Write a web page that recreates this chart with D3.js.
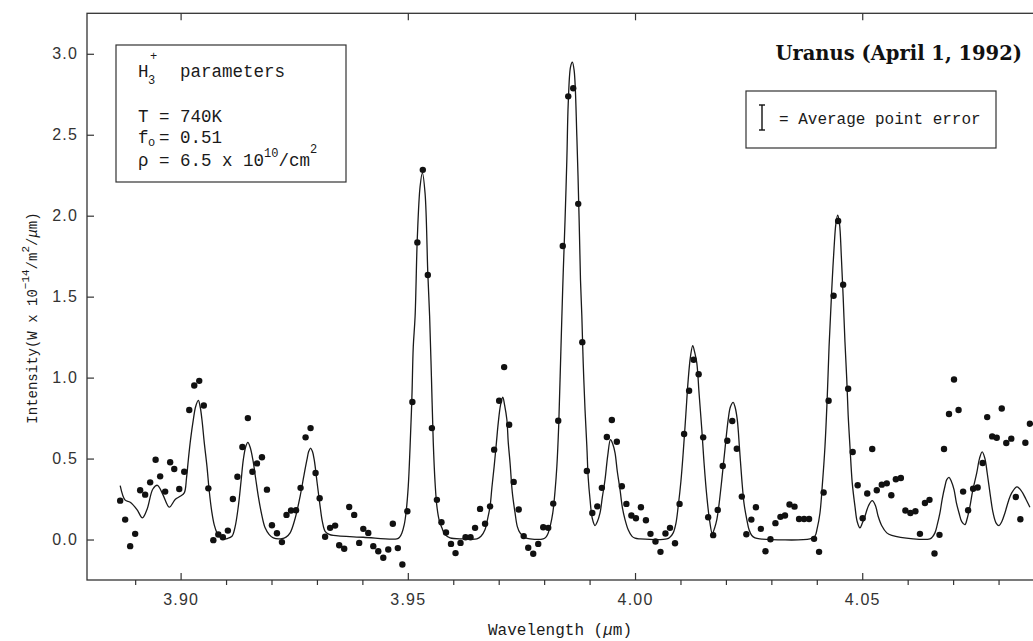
<!DOCTYPE html>
<html lang="en">
<head>
<meta charset="UTF-8">
<title>Uranus (April 1, 1992)</title>
<style>
  body { margin: 0; background: #fff; }
  svg { display: block; }
  .mono { font-family: 'Liberation Mono', 'Courier New', monospace; fill: #1a1a1a; }
  .axis text { font-family: 'Liberation Sans', Arial, sans-serif; font-size: 16px; fill: #333; letter-spacing: 1.2px; }
  .axis path, .axis line { stroke: #333; stroke-width: 1.2; }
</style>
</head>
<body>
<svg width="1033" height="641"></svg>
<script src="https://d3js.org/d3.v7.min.js"></script>
<script>
// measured points (wavelength in um, intensity in 1e-14 W/m2/um)
const obsWavelength = [
  3.8867, 3.8878, 3.8889, 3.8900, 3.8911, 3.8922, 3.8933, 3.8945, 3.8955, 3.8966,
  3.8977, 3.8986, 3.8997, 3.9008, 3.9019, 3.9030, 3.9041, 3.9051, 3.9061, 3.9072,
  3.9083, 3.9093, 3.9104, 3.9115, 3.9125, 3.9136, 3.9148, 3.9158, 3.9168, 3.9179,
  3.9190, 3.9201, 3.9212, 3.9223, 3.9233, 3.9243, 3.9254, 3.9264, 3.9275, 3.9286,
  3.9297, 3.9306, 3.9318, 3.9329, 3.9340, 3.9349, 3.9360, 3.9371, 3.9382, 3.9393,
  3.9402, 3.9413, 3.9424, 3.9435, 3.9446, 3.9457, 3.9467, 3.9478, 3.9488, 3.9499,
  3.9510, 3.9521, 3.9533, 3.9544, 3.9553, 3.9564, 3.9574, 3.9584, 3.9595, 3.9605,
  3.9616, 3.9627, 3.9638, 3.9648, 3.9659, 3.9670, 3.9681, 3.9690, 3.9701, 3.9712,
  3.9723, 3.9733, 3.9744, 3.9755, 3.9765, 3.9776, 3.9787, 3.9798, 3.9809, 3.9820,
  3.9831, 3.9841, 3.9853, 3.9864, 3.9875, 3.9884, 3.9894, 3.9906, 3.9917, 3.9927,
  3.9938, 3.9949, 3.9960, 3.9971, 3.9981, 3.9992, 4.0002, 4.0013, 4.0024, 4.0034,
  4.0045, 4.0056, 4.0067, 4.0077, 4.0088, 4.0098, 4.0108, 4.0119, 4.0129, 4.0140,
  4.0150, 4.0161, 4.0172, 4.0182, 4.0193, 4.0203, 4.0214, 4.0224, 4.0235, 4.0245,
  4.0256, 4.0266, 4.0277, 4.0287, 4.0298, 4.0309, 4.0320, 4.0330, 4.0340, 4.0351,
  4.0361, 4.0372, 4.0383, 4.0394, 4.0405, 4.0415, 4.0426, 4.0437, 4.0447, 4.0458,
  4.0469, 4.0479, 4.0490, 4.0501, 4.0511, 4.0522, 4.0532, 4.0543, 4.0554, 4.0564,
  4.0574, 4.0585, 4.0595, 4.0606, 4.0617, 4.0627, 4.0638, 4.0648, 4.0659, 4.0670,
  4.0680, 4.0691, 4.0702, 4.0712, 4.0722, 4.0733, 4.0744, 4.0754, 4.0765, 4.0775,
  4.0786, 4.0796, 4.0807, 4.0817, 4.0828, 4.0838, 4.0848, 4.0859, 4.0869
];
const obsIntensity = [
  0.240, 0.123, -0.041, 0.035, 0.304, 0.277, 0.353, 0.493, 0.390, 0.296,
  0.477, 0.436, 0.312, 0.419, 0.800, 0.951, 0.980, 0.828, 0.316, -0.004,
  0.031, 0.014, 0.055, 0.250, 0.388, 0.571, 0.750, 0.419, 0.470, 0.508,
  0.308, 0.088, 0.039, -0.016, 0.152, 0.179, 0.181, 0.319, 0.631, 0.688,
  0.411, 0.255, 0.017, 0.072, 0.086, -0.035, -0.057, 0.201, 0.152, -0.021,
  0.066, 0.041, -0.041, -0.072, -0.113, -0.062, 0.097, -0.053, -0.154, 0.175,
  0.849, 1.835, 2.283, 1.634, 0.688, 0.245, 0.107, 0.043, -0.027, -0.084,
  -0.021, 0.014, 0.014, 0.072, 0.189, 0.097, 0.205, 0.555, 0.857, 1.065,
  0.709, 0.356, 0.185, 0.021, -0.051, -0.088, -0.027, 0.076, 0.072, 0.222,
  0.734, 1.813, 2.737, 2.787, 2.073, 1.219, 0.423, 0.164, 0.205, 0.319,
  0.633, 0.738, 0.604, 0.329, 0.220, 0.148, 0.131, 0.199, 0.119, 0.035,
  -0.012, -0.076, 0.037, 0.072, -0.023, 0.220, 0.652, 0.919, 1.110, 1.021,
  0.631, 0.138, 0.027, 0.183, 0.454, 0.610, 0.732, 0.561, 0.265, 0.033,
  0.123, 0.199, 0.066, -0.072, 0.002, 0.101, 0.140, 0.148, 0.216, 0.203,
  0.127, 0.127, 0.127, 0.004, -0.076, 0.290, 0.857, 1.506, 1.967, 1.574,
  0.931, 0.541, 0.335, 0.131, 0.284, 0.559, 0.304, 0.339, 0.347, 0.273,
  0.372, 0.380, 0.179, 0.164, 0.175, 0.035, 0.226, 0.245, -0.086, 0.029,
  0.559, 0.775, 0.988, 0.800, 0.296, 0.181, 0.314, 0.321, 0.473, 0.756,
  0.637, 0.629, 0.809, 0.596, 0.623, 0.263, 0.125, 0.598, 0.715
];

// model spectrum
const modelWavelength = [
  3.8867, 3.8878, 3.8889, 3.8904, 3.8916, 3.8926, 3.8939, 3.8949, 3.8961, 3.8975,
  3.8988, 3.8999, 3.9008, 3.9013, 3.9017, 3.9022, 3.9028, 3.9033, 3.9039, 3.9043,
  3.9047, 3.9052, 3.9058, 3.9063, 3.9069, 3.9074, 3.9080, 3.9087, 3.9094, 3.9103,
  3.9113, 3.9120, 3.9127, 3.9133, 3.9138, 3.9143, 3.9148, 3.9153, 3.9159, 3.9165,
  3.9171, 3.9178, 3.9186, 3.9195, 3.9204, 3.9223, 3.9232, 3.9241, 3.9252, 3.9263,
  3.9271, 3.9278, 3.9282, 3.9286, 3.9290, 3.9294, 3.9300, 3.9307, 3.9312, 3.9318,
  3.9327, 3.9336, 3.9402, 3.9476, 3.9482, 3.9487, 3.9492, 3.9496, 3.9501, 3.9505,
  3.9509, 3.9512, 3.9516, 3.9521, 3.9527, 3.9532, 3.9538, 3.9544, 3.9548, 3.9552,
  3.9556, 3.9560, 3.9564, 3.9569, 3.9575, 3.9582, 3.9593, 3.9622, 3.9652, 3.9661,
  3.9670, 3.9675, 3.9681, 3.9685, 3.9690, 3.9695, 3.9699, 3.9704, 3.9709, 3.9713,
  3.9718, 3.9721, 3.9725, 3.9730, 3.9736, 3.9741, 3.9747, 3.9758, 3.9769, 3.9798,
  3.9804, 3.9809, 3.9814, 3.9819, 3.9824, 3.9828, 3.9832, 3.9835, 3.9839, 3.9842,
  3.9846, 3.9850, 3.9853, 3.9858, 3.9862, 3.9866, 3.9872, 3.9877, 3.9880, 3.9883,
  3.9886, 3.9890, 3.9894, 3.9897, 3.9901, 3.9906, 3.9912, 3.9917, 3.9923, 3.9928,
  3.9934, 3.9940, 3.9946, 3.9951, 3.9956, 3.9961, 3.9967, 3.9972, 3.9978, 3.9985,
  3.9993, 4.0000, 4.0011, 4.0070, 4.0077, 4.0084, 4.0090, 4.0095, 4.0101, 4.0106,
  4.0112, 4.0117, 4.0122, 4.0127, 4.0131, 4.0136, 4.0141, 4.0147, 4.0152, 4.0158,
  4.0164, 4.0170, 4.0175, 4.0180, 4.0185, 4.0191, 4.0198, 4.0205, 4.0210, 4.0216,
  4.0220, 4.0225, 4.0230, 4.0235, 4.0240, 4.0246, 4.0251, 4.0257, 4.0264, 4.0275,
  4.0385, 4.0396, 4.0401, 4.0407, 4.0412, 4.0418, 4.0423, 4.0427, 4.0431, 4.0434,
  4.0438, 4.0442, 4.0446, 4.0450, 4.0454, 4.0458, 4.0462, 4.0466, 4.0469, 4.0473,
  4.0478, 4.0484, 4.0489, 4.0495, 4.0500, 4.0506, 4.0514, 4.0522, 4.0529, 4.0535,
  4.0543, 4.0554, 4.0565, 4.0612, 4.0649, 4.0654, 4.0660, 4.0665, 4.0671, 4.0676,
  4.0682, 4.0686, 4.0691, 4.0696, 4.0702, 4.0707, 4.0713, 4.0719, 4.0726, 4.0731,
  4.0737, 4.0743, 4.0752, 4.0758, 4.0764, 4.0770, 4.0775, 4.0782, 4.0788, 4.0795,
  4.0801, 4.0807, 4.0814, 4.0822, 4.0829, 4.0840, 4.0846, 4.0853, 4.0860, 4.0869
];
const modelIntensity = [
  0.333, 0.243, 0.230, 0.185, 0.134, 0.185, 0.312, 0.335, 0.277, 0.200,
  0.247, 0.267, 0.288, 0.380, 0.493, 0.620, 0.740, 0.820, 0.859, 0.820,
  0.740, 0.600, 0.452, 0.300, 0.164, 0.090, 0.041, 0.015, 0.004, 0.006,
  0.020, 0.080, 0.205, 0.360, 0.493, 0.570, 0.600, 0.570, 0.493, 0.380,
  0.267, 0.160, 0.072, 0.030, 0.010, 0.006, 0.015, 0.041, 0.130, 0.267,
  0.390, 0.493, 0.545, 0.565, 0.545, 0.493, 0.360, 0.205, 0.110, 0.051,
  0.032, 0.025, 0.014, 0.004, 0.015, 0.041, 0.090, 0.164, 0.330, 0.575,
  0.880, 1.190, 1.377, 1.870, 2.180, 2.265, 2.137, 1.644, 1.377, 1.000,
  0.600, 0.350, 0.205, 0.120, 0.072, 0.030, 0.010, 0.004, 0.004, 0.020,
  0.062, 0.120, 0.205, 0.320, 0.452, 0.600, 0.720, 0.830, 0.880, 0.830,
  0.740, 0.600, 0.473, 0.290, 0.164, 0.080, 0.041, 0.012, 0.004, 0.004,
  0.015, 0.041, 0.090, 0.164, 0.300, 0.452, 0.700, 0.986, 1.377, 1.650,
  1.973, 2.350, 2.692, 2.918, 2.949, 2.898, 2.487, 1.973, 1.603, 1.377,
  1.089, 0.800, 0.575, 0.380, 0.247, 0.130, 0.086, 0.110, 0.164, 0.260,
  0.370, 0.520, 0.617, 0.590, 0.535, 0.420, 0.308, 0.200, 0.123, 0.060,
  0.021, 0.008, 0.004, 0.004, 0.015, 0.041, 0.100, 0.205, 0.360, 0.535,
  0.780, 0.986, 1.130, 1.198, 1.160, 1.089, 0.900, 0.678, 0.470, 0.267,
  0.120, 0.037, 0.070, 0.123, 0.220, 0.370, 0.560, 0.740, 0.820, 0.847,
  0.820, 0.740, 0.560, 0.370, 0.220, 0.123, 0.060, 0.025, 0.010, 0.004,
  0.004, 0.021, 0.070, 0.164, 0.330, 0.575, 0.880, 1.190, 1.430, 1.603,
  1.800, 1.950, 2.004, 1.950, 1.750, 1.500, 1.220, 0.986, 0.770, 0.575,
  0.350, 0.205, 0.110, 0.072, 0.100, 0.144, 0.210, 0.240, 0.210, 0.144,
  0.085, 0.041, 0.025, 0.004, 0.004, 0.015, 0.041, 0.090, 0.164, 0.250,
  0.329, 0.370, 0.384, 0.360, 0.308, 0.230, 0.164, 0.110, 0.092, 0.130,
  0.205, 0.300, 0.411, 0.500, 0.541, 0.500, 0.411, 0.270, 0.164, 0.100,
  0.086, 0.110, 0.164, 0.240, 0.288, 0.325, 0.315, 0.288, 0.250, 0.199
];

const majorTicks = [3.90, 3.95, 4.00, 4.05];
const minorTicks = [3.89, 3.91, 3.92, 3.93, 3.94, 3.96, 3.97, 3.98, 3.99,
                    4.01, 4.02, 4.03, 4.04, 4.06, 4.07, 4.08];
const yTicks = [0, 0.5, 1.0, 1.5, 2.0, 2.5, 3.0];

const svg = d3.select('svg');
const m = { left: 87, top: 13.3, right: 1044, bottom: 580 };

const x = d3.scaleLinear().domain([3.8794, 4.09]).range([m.left, m.right]);
const y = d3.scaleLinear().domain([-0.25, 3.25]).range([m.bottom, m.top]);

// frame
svg.append('rect')
    .attr('x', m.left).attr('y', m.top)
    .attr('width', m.right - m.left).attr('height', m.bottom - m.top)
    .attr('fill', 'none').attr('stroke', '#333').attr('stroke-width', 1.3);

// axes
svg.append('g').attr('class', 'axis')
    .attr('transform', `translate(0,${m.bottom})`)
    .call(d3.axisBottom(x).tickValues(majorTicks).tickSize(-7).tickPadding(14)
        .tickFormat(d3.format('.2f')))
    .call(g => g.select('.domain').remove());

svg.append('g').attr('class', 'axis')
    .attr('transform', `translate(0,${m.bottom})`)
    .call(d3.axisBottom(x).tickValues(minorTicks).tickSize(5).tickFormat(''))
    .call(g => g.select('.domain').remove());

svg.append('g').attr('class', 'axis')
    .attr('transform', `translate(0,${m.top})`)
    .call(d3.axisTop(x).tickValues(majorTicks).tickSize(-7).tickFormat(''))
    .call(g => g.select('.domain').remove());

svg.append('g').attr('class', 'axis')
    .attr('transform', `translate(${m.left},0)`)
    .call(d3.axisLeft(y).tickValues(yTicks).tickSize(-7).tickPadding(9)
        .tickFormat(d3.format('.1f')))
    .call(g => g.select('.domain').remove());

// model line
const line = d3.line()
    .x((d, i) => x(modelWavelength[i]))
    .y(d => y(d))
    .curve(d3.curveCatmullRom.alpha(0.5));

svg.append('path')
    .datum(modelIntensity)
    .attr('d', line)
    .attr('fill', 'none')
    .attr('stroke', '#1a1a1a')
    .attr('stroke-width', 1.3);

// data points
svg.append('g')
    .selectAll('circle')
    .data(obsIntensity)
    .join('circle')
    .attr('cx', (d, i) => x(obsWavelength[i]))
    .attr('cy', d => y(d))
    .attr('r', 3.2)
    .attr('fill', '#111');

// title
svg.append('text')
    .attr('x', 1022).attr('y', 60)
    .attr('text-anchor', 'end')
    .style('font-family', "'DejaVu Serif', serif")
    .style('font-weight', 'bold')
    .style('font-size', '19.5px')
    .attr('fill', '#111')
    .text('Uranus (April 1, 1992)');

// parameter box
svg.append('rect')
    .attr('x', 116).attr('y', 45).attr('width', 230).attr('height', 137)
    .attr('fill', '#fff').attr('stroke', '#333').attr('stroke-width', 1.2);

const p = svg.append('g').attr('class', 'mono').style('font-size', '17.5px');
const h = p.append('text').attr('x', 138).attr('y', 77);
h.append('tspan').text('H');
h.append('tspan').attr('x', 148).attr('dy', 7).style('font-size', '12px').text('3');
h.append('tspan').attr('x', 150).attr('dy', -24).style('font-size', '12px').text('+');
h.append('tspan').attr('x', 180).attr('dy', 17).text('parameters');

p.append('text').attr('x', 138).attr('y', 122).text('T = 740K');

const f = p.append('text').attr('x', 138).attr('y', 143);
f.append('tspan').text('f');
f.append('tspan').attr('x', 148).attr('dy', 3).style('font-size', '12px').text('o');
f.append('tspan').attr('x', 159).attr('dy', -3).text('= 0.51');

const r = p.append('text').attr('x', 138).attr('y', 166);
r.append('tspan').text('\u03c1 = 6.5 x 10');
r.append('tspan').attr('dy', -9).style('font-size', '12px').text('10');
r.append('tspan').attr('dy', 9).text('/cm');
r.append('tspan').attr('dy', -13).style('font-size', '12px').text('2');

// error box
svg.append('rect')
    .attr('x', 746).attr('y', 91).attr('width', 250).attr('height', 57)
    .attr('fill', '#fff').attr('stroke', '#333').attr('stroke-width', 1.2);

const eb = svg.append('g').attr('stroke', '#111').attr('stroke-width', 1.4);
eb.append('line').attr('x1', 762).attr('x2', 762).attr('y1', 105).attr('y2', 130);
eb.append('line').attr('x1', 759).attr('x2', 765).attr('y1', 105).attr('y2', 105);
eb.append('line').attr('x1', 759).attr('x2', 765).attr('y1', 130).attr('y2', 130);

svg.append('text').attr('class', 'mono')
    .attr('x', 779).attr('y', 124)
    .style('font-size', '16px')
    .text('= Average point error');

// axis titles
const xt = svg.append('text').attr('class', 'mono')
    .attr('x', 560).attr('y', 635)
    .attr('text-anchor', 'middle')
    .style('font-size', '16px');
xt.append('tspan').text('Wavelength (');
xt.append('tspan').style('font-style', 'italic').text('\u03bc');
xt.append('tspan').text('m)');

const yt = svg.append('text').attr('class', 'mono')
    .attr('transform', 'translate(37,318) rotate(-90)')
    .attr('text-anchor', 'middle')
    .style('font-size', '14px');
yt.append('tspan').text('Intensity(W x 10');
yt.append('tspan').attr('dy', -8).style('font-size', '11px').text('\u221214');
yt.append('tspan').attr('dy', 8).text('/m');
yt.append('tspan').attr('dy', -8).style('font-size', '11px').text('2');
yt.append('tspan').attr('dy', 8).text('/');
yt.append('tspan').style('font-style', 'italic').text('\u03bc');
yt.append('tspan').text('m)');
</script>
</body>
</html>
